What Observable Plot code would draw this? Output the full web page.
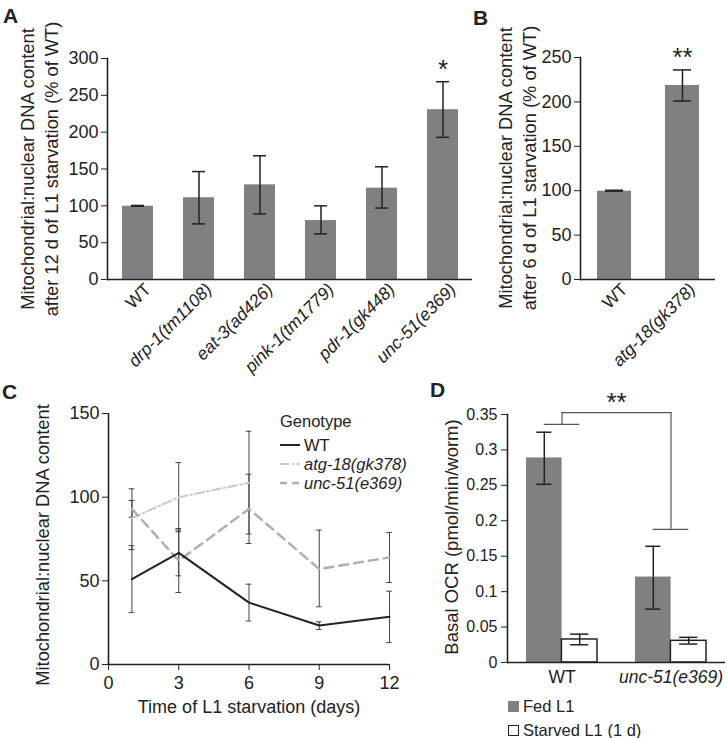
<!DOCTYPE html>
<html><head><meta charset="utf-8">
<script src="https://cdn.jsdelivr.net/npm/d3@7"></script>
<script src="https://cdn.jsdelivr.net/npm/@observablehq/plot@0.6"></script>
<style>
body{margin:0;background:#fff;}
#fig{position:relative;width:727px;height:738px;font-family:"Liberation Sans",Arial,Helvetica,sans-serif;color:#222;overflow:hidden;background:#fff}
.letter{position:absolute;font-weight:bold;font-size:21px;line-height:1}
.ylab{position:absolute;transform:translate(-50%,-50%) rotate(-90deg);white-space:nowrap;text-align:center;font-size:18.3px;line-height:24px}
.xlab{position:absolute;transform:translate(-50%,-50%);white-space:nowrap;font-size:18px}
.leg{position:absolute;font-size:16.5px;line-height:20px;white-space:nowrap}
.leg .row{display:flex;align-items:center;height:19px}
.leg i{font-style:italic}
</style></head>
<body><div id="fig"></div>
<script>
// ---------- Panel A data ----------
const aCats = ["WT","drp-1(tm1108)","eat-3(ad426)","pink-1(tm1779)","pdr-1(gk448)","unc-51(e369)"];
const aMean = [99.5, 111, 128.5, 80, 124, 230.5];
const aLow  = [99.5, 75.5, 89, 62, 97, 193];
const aHigh = [100.5, 146.5, 168, 100, 153, 268.5];
const aSig  = ["", "", "", "", "", "*"];
const aTicks = [0, 50, 100, 150, 200, 250, 300];

// ---------- Panel B data ----------
const bCats = ["WT","atg-18(gk378)"];
const bMean = [99.5, 218.5];
const bLow  = [99.5, 201];
const bHigh = [100.5, 236];
const bSig  = ["", "**"];
const bTicks = [0, 50, 100, 150, 200, 250];

// ---------- Panel C data ----------
const cDays = [1, 3, 6, 9, 12];
const cWT    = [51, 66.7, 37, 23.3, 28.5];
const cWTLo  = [31, 53, 26, 20.9, 13.1];
const cWTHi  = [71, 80.3, 48, 25.5, 43.8];
const cAtgDays = [1, 3, 6];
const cAtg   = [87.5, 100, 108.6];
const cAtgLo = [68.7, 79.3, 78];
const cAtgHi = [105, 120.7, 139.4];
const cUnc   = [93, 62, 93, 57, 64];
const cUncLo = [88, 43, 72.3, 34.5, 49];
const cUncHi = [98, 81.3, 113.7, 80.3, 78.9];
const cXTicks = [0, 3, 6, 9, 12];
const cYTicks = [0, 50, 100, 150];
const cGenotypes = ["WT", "atg-18(gk378)", "unc-51(e369)"];

// ---------- Panel D data ----------
const dGroups = ["WT", "unc-51(e369)"];
const dConds = ["Fed L1", "Starved L1 (1 d)"];
const dFed     = [0.2887, 0.1206];
const dFedLo   = [0.2515, 0.0753];
const dFedHi   = [0.325, 0.164];
const dStarved   = [0.0325, 0.0306];
const dStarvedLo = [0.025, 0.026];
const dStarvedHi = [0.040, 0.0355];
const dBracketLevels = [0.336, 0.188];
const dBracketTop = 0.3527;
const dSig = "**";
const dTicks = [0, 0.05, 0.1, 0.15, 0.2, 0.25, 0.3, 0.35];

const FONT = "'Liberation Sans', Arial, Helvetica, sans-serif";
const INK = "#222";
const BAR = "#808083";
const fig = document.getElementById("fig");

function place(el, left, top) {
  el.style.position = "absolute"; el.style.left = left + "px"; el.style.top = top + "px";
  fig.appendChild(el);
}
function italicize(svg) {
  svg.querySelectorAll('g[aria-label="x-axis tick label"] text').forEach(t => {
    if (t.textContent.trim() !== "WT") t.style.fontStyle = "italic";
  });
}
function addDiv(cls, html, left, top) {
  const d = document.createElement("div");
  d.className = cls; d.innerHTML = html;
  d.style.left = left + "px"; d.style.top = top + "px";
  fig.appendChild(d);
  return d;
}

// ---------- Panel A ----------
const aData = aCats.map((c, i) => ({cat: c, mean: aMean[i], lo: aLow[i], hi: aHigh[i], sig: aSig[i]}));
const plotA = Plot.plot({
  width: 480, height: 400,
  marginLeft: 107, marginRight: 8, marginTop: 58, marginBottom: 121,
  style: {fontFamily: FONT, fontSize: "18px", color: INK, background: "transparent", overflow: "visible"},
  x: {domain: aCats, paddingInner: 0.5, paddingOuter: 0.2, label: null},
  y: {domain: [0, 300], ticks: aTicks, label: null, tickSize: 6, tickPadding: 3},
  marks: [
    Plot.axisX({tickRotate: -45, tickSize: 0, tickPadding: 7, dx: 10, fontSize: 17.5, label: null}),
    Plot.barY(aData, {x: "cat", y: "mean", fill: BAR}),
    Plot.ruleX(aData, {x: "cat", y1: "lo", y2: "hi", stroke: INK, strokeWidth: 1.5}),
    Plot.tickY(aData, {x: "cat", y: "lo", stroke: INK, strokeWidth: 1.5, insetLeft: 9, insetRight: 9}),
    Plot.tickY(aData, {x: "cat", y: "hi", stroke: INK, strokeWidth: 1.5, insetLeft: 9, insetRight: 9}),
    Plot.text(aData, {x: "cat", y: "hi", text: "sig", dy: -12, fontSize: 26, fill: INK}),
    Plot.ruleY([0], {stroke: INK, strokeWidth: 1.6}),
    Plot.frame({anchor: "left", stroke: INK, strokeWidth: 1.6})
  ]
});
italicize(plotA);
place(plotA, 0, 0);

// ---------- Panel B ----------
const bData = bCats.map((c, i) => ({cat: c, mean: bMean[i], lo: bLow[i], hi: bHigh[i], sig: bSig[i]}));
const plotB = Plot.plot({
  width: 247, height: 400,
  marginLeft: 100, marginRight: 12, marginTop: 57, marginBottom: 121,
  style: {fontFamily: FONT, fontSize: "18px", color: INK, background: "transparent", overflow: "visible"},
  x: {domain: bCats, paddingInner: 0.5, paddingOuter: 0.235, label: null},
  y: {domain: [0, 250], ticks: bTicks, label: null, tickSize: 6, tickPadding: 3},
  marks: [
    Plot.axisX({tickRotate: -45, tickSize: 0, tickPadding: 7, dx: 10, fontSize: 17.5, label: null}),
    Plot.barY(bData, {x: "cat", y: "mean", fill: BAR}),
    Plot.ruleX(bData, {x: "cat", y1: "lo", y2: "hi", stroke: INK, strokeWidth: 1.5}),
    Plot.tickY(bData, {x: "cat", y: "lo", stroke: INK, strokeWidth: 1.5, insetLeft: 8, insetRight: 8}),
    Plot.tickY(bData, {x: "cat", y: "hi", stroke: INK, strokeWidth: 1.5, insetLeft: 8, insetRight: 8}),
    Plot.text(bData, {x: "cat", y: "hi", text: "sig", dy: -12, fontSize: 26, fill: INK}),
    Plot.ruleY([0], {stroke: INK, strokeWidth: 1.6}),
    Plot.frame({anchor: "left", stroke: INK, strokeWidth: 1.6})
  ]
});
italicize(plotB);
place(plotB, 480, 0);

// ---------- Panel C ----------
const cSeries = [];
cDays.forEach((d, i) => cSeries.push({g: "WT", day: d, v: cWT[i], lo: cWTLo[i], hi: cWTHi[i]}));
cAtgDays.forEach((d, i) => cSeries.push({g: "atg-18(gk378)", day: d, v: cAtg[i], lo: cAtgLo[i], hi: cAtgHi[i]}));
cDays.forEach((d, i) => cSeries.push({g: "unc-51(e369)", day: d, v: cUnc[i], lo: cUncLo[i], hi: cUncHi[i]}));
const capHalf = 0.12; // half cap width, in days
const errStroke = "#444";
const plotC = Plot.plot({
  width: 420, height: 338,
  marginLeft: 108, marginRight: 31, marginTop: 13, marginBottom: 74,
  style: {fontFamily: FONT, fontSize: "18px", color: INK, background: "transparent", overflow: "visible"},
  x: {domain: [0, 12], ticks: cXTicks, label: null, tickSize: 6, tickPadding: 6},
  y: {domain: [0, 150], ticks: cYTicks, label: null, tickSize: 6, tickPadding: 3},
  marks: [
    Plot.ruleX(cSeries, {x: "day", y1: "lo", y2: "hi", stroke: errStroke, strokeWidth: 1}),
    Plot.ruleY(cSeries, {y: "lo", x1: d => d.day - capHalf, x2: d => d.day + capHalf, stroke: errStroke, strokeWidth: 1}),
    Plot.ruleY(cSeries, {y: "hi", x1: d => d.day - capHalf, x2: d => d.day + capHalf, stroke: errStroke, strokeWidth: 1}),
    Plot.line(cSeries.filter(d => d.g === "atg-18(gk378)"), {x: "day", y: "v", stroke: "#c9c9c9", strokeWidth: 2, strokeDasharray: "9,3,2,3"}),
    Plot.line(cSeries.filter(d => d.g === "unc-51(e369)"), {x: "day", y: "v", stroke: "#b0b0b0", strokeWidth: 2.5, strokeDasharray: "9,6"}),
    Plot.line(cSeries.filter(d => d.g === "WT"), {x: "day", y: "v", stroke: INK, strokeWidth: 2}),
    Plot.ruleX([0], {stroke: INK, strokeWidth: 1.6}),
    Plot.ruleY([0], {stroke: INK, strokeWidth: 1.6})
  ]
});
place(plotC, 0, 400);

// ---------- Panel D ----------
const dData = [];
dGroups.forEach((g, i) => {
  dData.push({g, cond: dConds[0], v: dFed[i], lo: dFedLo[i], hi: dFedHi[i]});
  dData.push({g, cond: dConds[1], v: dStarved[i], lo: dStarvedLo[i], hi: dStarvedHi[i]});
});
const fed = dData.filter(d => d.cond === dConds[0]);
const starved = dData.filter(d => d.cond === dConds[1]);
const bracket = dGroups.map((g, i) => ({g, level: dBracketLevels[i], top: dBracketTop}));
const half = 35.4, q = 17.7, capW = 7.5;
const brk = "#555";
const plotD = Plot.plot({
  width: 307, height: 320,
  marginLeft: 87, marginRight: 2, marginTop: 34, marginBottom: 38,
  style: {fontFamily: FONT, fontSize: "16px", color: INK, background: "transparent", overflow: "visible"},
  x: {domain: dGroups, paddingInner: 0.35, paddingOuter: 0.175, label: null},
  y: {domain: [0, 0.35], ticks: dTicks, label: null, tickSize: 6, tickPadding: 4, tickFormat: d => String(+d.toFixed(2))},
  marks: [
    Plot.axisX({tickSize: 0, tickPadding: 8, fontSize: 17.5, label: null}),
    Plot.barY(fed, {x: "g", y: "v", fill: BAR, insetRight: half}),
    Plot.barY(starved, {x: "g", y: "v", fill: "#fff", stroke: INK, strokeWidth: 1.5, insetLeft: half}),
    Plot.ruleX(fed, {x: "g", y1: "lo", y2: "hi", dx: -q, stroke: INK, strokeWidth: 1.5}),
    Plot.ruleX(starved, {x: "g", y1: "lo", y2: "hi", dx: q, stroke: INK, strokeWidth: 1.5}),
    Plot.tickY(fed, {x: "g", y: "lo", stroke: INK, strokeWidth: 1.5, insetLeft: q - capW, insetRight: 2 * half - q - capW}),
    Plot.tickY(fed, {x: "g", y: "hi", stroke: INK, strokeWidth: 1.5, insetLeft: q - capW, insetRight: 2 * half - q - capW}),
    Plot.tickY(starved, {x: "g", y: "lo", stroke: INK, strokeWidth: 1.5, insetLeft: 2 * half - q - capW - 1.5, insetRight: q - capW - 1.5}),
    Plot.tickY(starved, {x: "g", y: "hi", stroke: INK, strokeWidth: 1.5, insetLeft: 2 * half - q - capW - 1.5, insetRight: q - capW - 1.5}),
    Plot.tickY(bracket, {x: "g", y: "level", stroke: brk, strokeWidth: 1.2, insetLeft: q, insetRight: q}),
    Plot.ruleX(bracket, {x: "g", y1: "level", y2: "top", stroke: brk, strokeWidth: 1.2}),
    Plot.line(bracket, {x: "g", y: "top", stroke: brk, strokeWidth: 1.2}),
    Plot.text([dSig], {y: () => dBracketTop, text: d => d, dy: -10, fontSize: 26, fill: INK}),
    Plot.ruleY([0], {stroke: INK, strokeWidth: 1.6}),
    Plot.frame({anchor: "left", stroke: INK, strokeWidth: 1.6})
  ]
});
italicize(plotD);
place(plotD, 420, 380);

// ---------- Titles, letters, legends ----------
addDiv("letter", "A", 3, 5);
addDiv("letter", "B", 473, 7);
addDiv("letter", "C", 2, 381);
addDiv("letter", "D", 430, 379);

addDiv("ylab", "Mitochondrial:nuclear DNA content<br>after 12 d of L1 starvation (% of WT)", 40, 169);
addDiv("ylab", "Mitochondrial:nuclear DNA content<br>after 6 d of L1 starvation (% of WT)", 518, 168);
addDiv("ylab", "Mitochondrial:nuclear DNA content", 43, 545);
addDiv("ylab", "Basal OCR (pmol/min/worm)", 452, 537).style.fontSize = "18.5px";
addDiv("xlab", "Time of L1 starvation (days)", 249, 707);

const sw = (dash, color, w) => `<svg width="20" height="10" style="margin-right:4px"><line x1="0" x2="20" y1="5" y2="5" stroke="${color}" stroke-width="${w}" ${dash ? `stroke-dasharray="${dash}"` : ""}/></svg>`;
addDiv("leg",
  `<div style="margin-bottom:4px">Genotype</div>` +
  `<div class="row">${sw("", INK, 2)}<span>${cGenotypes[0]}</span></div>` +
  `<div class="row">${sw("9,3,2,3", "#c9c9c9", 2)}<i>${cGenotypes[1]}</i></div>` +
  `<div class="row">${sw("7,5", "#b0b0b0", 2.5)}<i>${cGenotypes[2]}</i></div>`,
  280, 411);

const box = (fill) => `<span style="display:inline-block;width:11px;height:11px;background:${fill};border:1px solid ${fill === BAR ? BAR : INK};margin-right:4px;box-sizing:border-box"></span>`;
addDiv("leg",
  `<div class="row" style="height:24px">${box(BAR)}${dConds[0]}</div>` +
  `<div class="row" style="height:24px">${box("#fff")}${dConds[1]}</div>`,
  508, 694);
</script>
</body></html>
